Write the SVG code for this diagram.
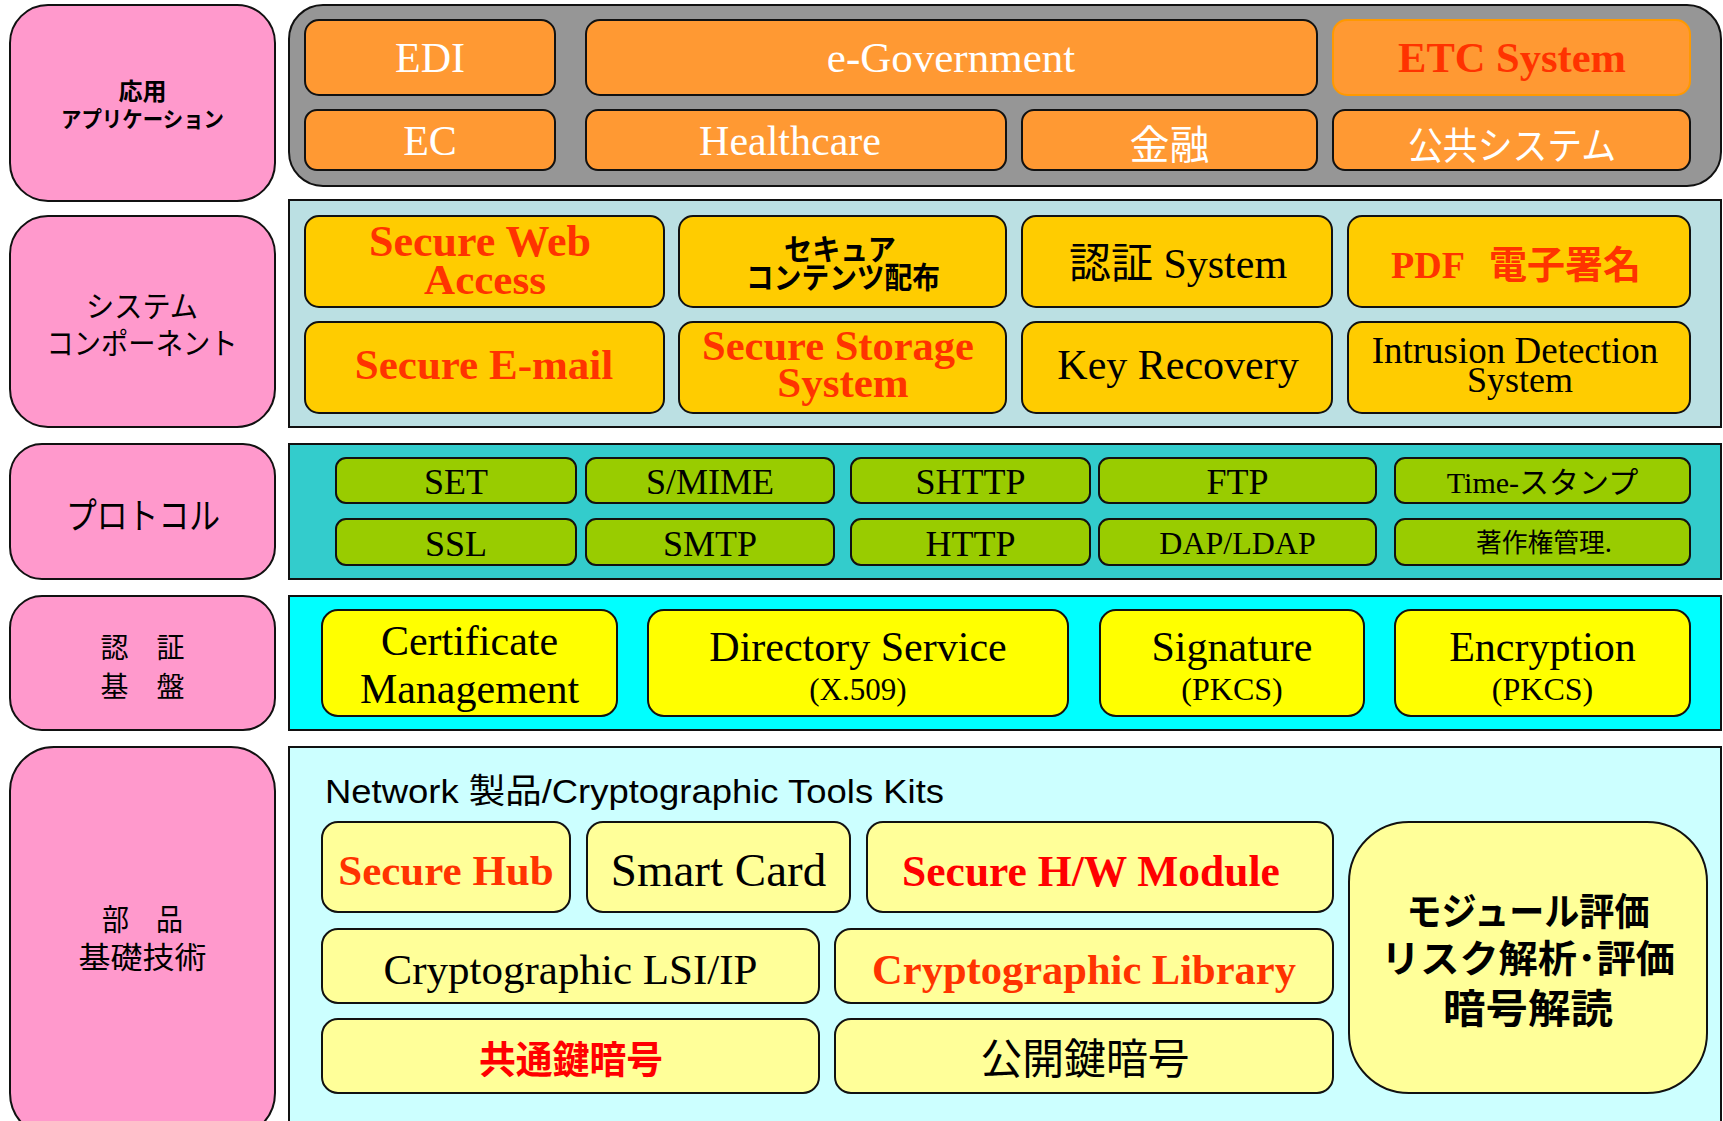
<svg xmlns="http://www.w3.org/2000/svg" width="1723" height="1121" viewBox="0 0 1723 1121">
<style>
.lbl{fill:#FF99CC;stroke:#111;stroke-width:2}
.box{stroke:#111;stroke-width:2}
.org{fill:#FF9933}
.gold{fill:#FFCC00}
.grn{fill:#99CC00}
.yel{fill:#FFFF00}
.lyel{fill:#FFFF99}
text{text-anchor:middle}
.ser{font-family:"Liberation Serif","Noto Sans CJK JP",serif}
.san{font-family:"Noto Sans CJK JP","Liberation Sans",sans-serif}
.b{font-weight:bold}
.w{fill:#FFFFFF}
.k{fill:#000000}
.ro{fill:#FF3300}
.rd{fill:#FF0000}
</style>
<rect width="1723" height="1121" fill="#FFFFFF"/>

<!-- Layer 1: application -->
<g id="label-app">
<rect class="lbl" x="10" y="5" width="265" height="196" rx="38"/>
<text class="san b k" x="142.5" y="100" font-size="24">応用</text>
<text class="san b k" x="142.5" y="127" font-size="22" textLength="163" lengthAdjust="spacingAndGlyphs">アプリケーション</text>
</g>
<g id="layer-app">
<rect x="289" y="5" width="1432" height="181" rx="34" fill="#969696" stroke="#111" stroke-width="2"/>
</g>
<g id="n-edi"><rect class="box org" x="305" y="20" width="250" height="75" rx="14"/><text class="ser w" x="430" y="72" font-size="42">EDI</text></g>
<g id="n-egov"><rect class="box org" x="586" y="20" width="731" height="75" rx="14"/><text class="ser w" x="951" y="72" font-size="43">e-Government</text></g>
<g id="n-etc"><rect class="org" x="1333" y="20" width="357" height="75" rx="14" stroke="#FF9900" stroke-width="2"/><text class="ser b ro" x="1512" y="72" font-size="42.5">ETC System</text></g>
<g id="n-ec"><rect class="box org" x="305" y="110" width="250" height="60" rx="12"/><text class="ser w" x="430" y="155" font-size="42">EC</text></g>
<g id="n-health"><rect class="box org" x="586" y="110" width="420" height="60" rx="12"/><text class="ser w" x="790" y="155" font-size="42">Healthcare</text></g>
<g id="n-kinyu"><rect class="box org" x="1022" y="110" width="295" height="60" rx="12"/><text class="san w" x="1169.5" y="159" font-size="40">金融</text></g>
<g id="n-kokyo"><rect class="box org" x="1333" y="110" width="357" height="60" rx="12"/><text class="san w" x="1512" y="159" font-size="38" textLength="208" lengthAdjust="spacingAndGlyphs">公共システム</text></g>

<!-- Layer 2: system components -->
<g id="label-sys">
<rect class="lbl" x="10" y="216" width="265" height="211" rx="38"/>
<text class="san k" x="142" y="317" font-size="30" textLength="112" lengthAdjust="spacingAndGlyphs">システム</text>
<text class="san k" x="142" y="354" font-size="30" textLength="191" lengthAdjust="spacingAndGlyphs">コンポーネント</text>
</g>
<g id="layer-sys"><rect x="289" y="200" width="1432" height="227" fill="#BBE0E3" stroke="#111" stroke-width="2"/></g>
<g id="n-sweb"><rect class="box gold" x="305" y="216" width="359" height="91" rx="14"/>
<text class="ser b ro" x="480" y="256" font-size="44">Secure Web</text>
<text class="ser b ro" x="485" y="294" font-size="43">Access</text></g>
<g id="n-scontent"><rect class="box gold" x="679" y="216" width="327" height="91" rx="14"/>
<text class="san b k" x="840" y="260" font-size="30" textLength="112" lengthAdjust="spacingAndGlyphs">セキュア</text>
<text class="san b k" x="843" y="288" font-size="30" textLength="194" lengthAdjust="spacingAndGlyphs">コンテンツ配布</text></g>
<g id="n-ninsho"><rect class="box gold" x="1022" y="216" width="310" height="91" rx="14"/>
<text class="ser k" x="1178" y="278" font-size="42">認証 System</text></g>
<g id="n-pdf"><rect class="box gold" x="1348" y="216" width="342" height="91" rx="14"/>
<text class="ser b ro" x="1516" y="278" font-size="38">PDF<tspan dx="24">電子署名</tspan></text></g>
<g id="n-smail"><rect class="box gold" x="305" y="322" width="359" height="91" rx="14"/>
<text class="ser b ro" x="484" y="379" font-size="43">Secure E-mail</text></g>
<g id="n-sstorage"><rect class="box gold" x="679" y="322" width="327" height="91" rx="14"/>
<text class="ser b ro" x="838" y="360" font-size="42.5">Secure Storage</text>
<text class="ser b ro" x="843" y="397" font-size="43">System</text></g>
<g id="n-keyrec"><rect class="box gold" x="1022" y="322" width="310" height="91" rx="14"/>
<text class="ser k" x="1178" y="379" font-size="42">Key Recovery</text></g>
<g id="n-ids"><rect class="box gold" x="1348" y="322" width="342" height="91" rx="14"/>
<text class="ser k" x="1515" y="363" font-size="37">Intrusion Detection</text>
<text class="ser k" x="1520" y="392" font-size="36">System</text></g>

<!-- Layer 3: protocols -->
<g id="label-proto">
<rect class="lbl" x="10" y="444" width="265" height="135" rx="32"/>
<text class="san k" x="143" y="529" font-size="36" textLength="154" lengthAdjust="spacingAndGlyphs">プロトコル</text>
</g>
<g id="layer-proto"><rect x="289" y="444" width="1432" height="135" fill="#33CCCC" stroke="#111" stroke-width="2"/></g>
<g id="n-set"><rect class="box grn" x="336" y="458" width="240" height="45" rx="10"/><text class="ser k" x="456" y="494" font-size="36">SET</text></g>
<g id="n-smime"><rect class="box grn" x="586" y="458" width="248" height="45" rx="10"/><text class="ser k" x="710" y="494" font-size="36">S/MIME</text></g>
<g id="n-shttp"><rect class="box grn" x="851" y="458" width="239" height="45" rx="10"/><text class="ser k" x="970.5" y="494" font-size="36">SHTTP</text></g>
<g id="n-ftp"><rect class="box grn" x="1099" y="458" width="277" height="45" rx="10"/><text class="ser k" x="1237.5" y="494" font-size="36">FTP</text></g>
<g id="n-time"><rect class="box grn" x="1395" y="458" width="295" height="45" rx="10"/><text class="ser k" x="1542.5" y="493" font-size="30">Time-スタンプ</text></g>
<g id="n-ssl"><rect class="box grn" x="336" y="519" width="240" height="46" rx="10"/><text class="ser k" x="456" y="556" font-size="36">SSL</text></g>
<g id="n-smtp"><rect class="box grn" x="586" y="519" width="248" height="46" rx="10"/><text class="ser k" x="710" y="556" font-size="36">SMTP</text></g>
<g id="n-http"><rect class="box grn" x="851" y="519" width="239" height="46" rx="10"/><text class="ser k" x="970.5" y="556" font-size="36">HTTP</text></g>
<g id="n-ldap"><rect class="box grn" x="1099" y="519" width="277" height="46" rx="10"/><text class="ser k" x="1237.5" y="554" font-size="32">DAP/LDAP</text></g>
<g id="n-copyright"><rect class="box grn" x="1395" y="519" width="295" height="46" rx="10"/><text class="san k" x="1544" y="552" font-size="26" textLength="136" lengthAdjust="spacingAndGlyphs">著作権管理.</text></g>

<!-- Layer 4: PKI -->
<g id="label-pki">
<rect class="lbl" x="10" y="596" width="265" height="134" rx="32"/>
<text class="san k" x="142.5" y="658" font-size="28">認　証</text>
<text class="san k" x="142.5" y="697" font-size="28">基　盤</text>
</g>
<g id="layer-pki"><rect x="289" y="596" width="1432" height="134" fill="#00FFFF" stroke="#111" stroke-width="2"/></g>
<g id="n-cert"><rect class="box yel" x="322" y="610" width="295" height="106" rx="16"/>
<text class="ser k" x="469.5" y="655" font-size="42">Certificate</text>
<text class="ser k" x="469.5" y="703" font-size="42">Management</text></g>
<g id="n-dir"><rect class="box yel" x="648" y="610" width="420" height="106" rx="16"/>
<text class="ser k" x="858" y="661" font-size="42">Directory Service</text>
<text class="ser k" x="858" y="700" font-size="31">(X.509)</text></g>
<g id="n-sig"><rect class="box yel" x="1100" y="610" width="264" height="106" rx="16"/>
<text class="ser k" x="1232" y="661" font-size="42">Signature</text>
<text class="ser k" x="1232" y="700" font-size="32">(PKCS)</text></g>
<g id="n-enc"><rect class="box yel" x="1395" y="610" width="295" height="106" rx="16"/>
<text class="ser k" x="1542.5" y="661" font-size="42">Encryption</text>
<text class="ser k" x="1542.5" y="700" font-size="32">(PKCS)</text></g>

<!-- Layer 5: components / base technology -->
<g id="label-parts">
<rect class="lbl" x="10" y="747" width="265" height="390" rx="44"/>
<text class="san k" x="142.5" y="930" font-size="30" textLength="81" lengthAdjust="spacingAndGlyphs">部　品</text>
<text class="san k" x="142.5" y="968" font-size="30" textLength="128" lengthAdjust="spacingAndGlyphs">基礎技術</text>
</g>
<g id="layer-parts">
<rect x="289" y="747" width="1432" height="390" fill="#CCFFFF" stroke="#111" stroke-width="2"/>
<text x="325" y="803" font-size="34" fill="#000" style="text-anchor:start;font-family:'Liberation Sans','Noto Sans CJK JP',sans-serif" textLength="619" lengthAdjust="spacingAndGlyphs">Network 製品/Cryptographic Tools Kits</text>
</g>
<g id="n-shub"><rect class="box lyel" x="322" y="822" width="248" height="90" rx="16"/><text class="ser b ro" x="446" y="885" font-size="43">Secure Hub</text></g>
<g id="n-smart"><rect class="box lyel" x="587" y="822" width="263" height="90" rx="16"/><text class="ser k" x="718.5" y="886" font-size="47">Smart Card</text></g>
<g id="n-hsm"><rect class="box lyel" x="867" y="822" width="466" height="90" rx="16"/><text class="ser b rd" x="1091" y="886" font-size="43.5">Secure H/W Module</text></g>
<g id="n-lsi"><rect class="box lyel" x="322" y="929" width="497" height="74" rx="16"/><text class="ser k" x="570.5" y="984" font-size="43">Cryptographic LSI/IP</text></g>
<g id="n-lib"><rect class="box lyel" x="835" y="929" width="498" height="74" rx="16"/><text class="ser b ro" x="1084" y="984" font-size="42.5">Cryptographic Library</text></g>
<g id="n-symm"><rect class="box lyel" x="322" y="1019" width="497" height="74" rx="16"/><text class="san b rd" x="571" y="1073" font-size="38" textLength="184" lengthAdjust="spacingAndGlyphs">共通鍵暗号</text></g>
<g id="n-pub"><rect class="box lyel" x="835" y="1019" width="498" height="74" rx="16"/><text class="san k" x="1085" y="1074" font-size="42" textLength="209" lengthAdjust="spacingAndGlyphs">公開鍵暗号</text></g>
<g id="n-eval"><rect class="box lyel" x="1349" y="822" width="358" height="271" rx="60"/>
<text class="san b k" x="1528" y="925" font-size="38" textLength="243" lengthAdjust="spacingAndGlyphs">モジュール評価</text>
<text class="san b k" x="1528" y="972" font-size="38" textLength="294" lengthAdjust="spacingAndGlyphs">リスク解析･評価</text>
<text class="san b k" x="1528" y="1023" font-size="40" textLength="170" lengthAdjust="spacingAndGlyphs">暗号解読</text>
</g>
</svg>
